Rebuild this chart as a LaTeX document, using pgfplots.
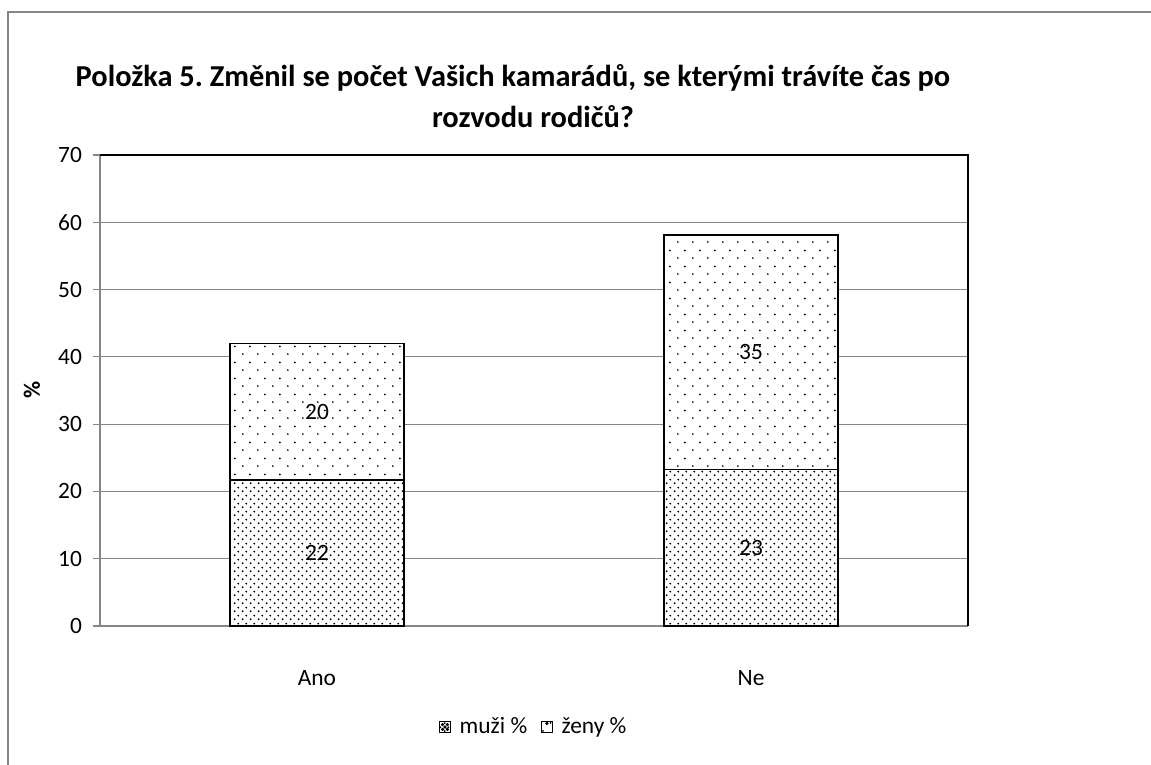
\documentclass[border=0pt]{standalone}
\usepackage{pgfplots}
\pgfplotsset{compat=1.18}
\usepackage{fontspec}
\setmainfont{Carlito}
\frenchspacing
\usetikzlibrary{patterns.meta}
\definecolor{axgray}{HTML}{868686}
\tikzdeclarepattern{
  name=densedots,
  type=uncolored,
  bounding box={(0pt,0pt) and (3.75pt,4pt)},
  tile size={(3.75pt,4pt)},
  code={
    \pgfpathcircle{\pgfqpoint{0.9pt}{1pt}}{0.55pt}
    \pgfpathcircle{\pgfqpoint{2.775pt}{3pt}}{0.55pt}
    \pgfusepath{fill}
  }
}
\tikzdeclarepattern{
  name=sparsedots,
  type=uncolored,
  bounding box={(0pt,0pt) and (7.5pt,7.8pt)},
  tile size={(7.5pt,7.8pt)},
  code={
    \pgfpathcircle{\pgfqpoint{1.5pt}{1.5pt}}{0.5pt}
    \pgfpathcircle{\pgfqpoint{5.25pt}{5.4pt}}{0.5pt}
    \pgfusepath{fill}
  }
}
\pgfplotstableread{
x muzi zeny
0 21.7 20.3
1 23.2 34.9
}\datatable
\newcommand\lblfont{\fontsize{11.7}{14}\selectfont}
\begin{document}
\begin{tikzpicture}
\useasboundingbox (-50pt,-69.5pt) rectangle (525.5pt,313pt);
\draw[axgray, line width=0.8pt] (-46pt,-69.5pt) -- (-46pt,307pt) -- (525.5pt,307pt);
\begin{axis}[
  at={(0pt,0pt)}, anchor=south west,
  scale only axis,
  width=434pt, height=235.5pt,
  ybar stacked,
  bar width=87pt,
  xmin=-0.5, xmax=1.5,
  ymin=0, ymax=70,
  ytick={0,10,...,70},
  xtick={0,1},
  xticklabels={Ano,Ne},
  extra x ticks={-0.5,0.5,1.5},
  extra x tick labels={},
  extra x tick style={major tick length=3.5pt, tick style={axgray, line width=0.6pt}, tick align=outside, grid=none},
  x tick style={draw=none},
  y tick style={axgray, line width=0.6pt},
  major tick length=3.5pt,
  tick align=outside,
  tick pos=left,
  ymajorgrids,
  grid style={axgray, line width=0.5pt},
  axis line style={axgray, line width=0.7pt},
  axis x line*=bottom,
  axis y line*=left,
  /pgf/number format/assume math mode=true,
  tick label style={font=\lblfont},
  yticklabel style={xshift=-2pt},
  xticklabel style={anchor=center, yshift=-22.5pt},
  legend style={at={(0.501,-0.2144)}, anchor=center, draw=none, legend columns=2,
    font=\lblfont,
    /tikz/every odd column/.append style={column sep=2.5pt},
    /tikz/every even column/.append style={column sep=5pt}},
  clip=false,
  after end axis/.code={
    \draw[black, line width=0.6pt] (rel axis cs:0,1) -- (rel axis cs:1,1) -- (rel axis cs:1,0);
    \node[font=\lblfont] at (axis cs:0,10.85) {22};
    \node[font=\lblfont] at (axis cs:0,31.8) {20};
    \node[font=\lblfont] at (axis cs:1,11.6) {23};
    \node[font=\lblfont] at (axis cs:1,40.65) {35};
  },
]
\addplot[draw=black, line width=0.6pt, fill=white, postaction={pattern={densedots}, pattern color=black},
  legend image code/.code={\draw[black, line width=0.45pt, fill=white] (0pt,-2.6pt) rectangle (5.2pt,2.6pt);
    \fill[black] (1.4pt,-1.2pt) circle (0.35pt); \fill[black] (3.8pt,-1.2pt) circle (0.35pt);
    \fill[black] (1.4pt,1.2pt) circle (0.35pt); \fill[black] (3.8pt,1.2pt) circle (0.35pt);
    \fill[black] (2.6pt,0pt) circle (0.35pt);}]
  table[x=x, y=muzi] {\datatable};
\addlegendentry{muži \%}
\addplot[draw=black, line width=0.6pt, fill=white, postaction={pattern={sparsedots}, pattern color=black},
  legend image code/.code={\draw[black, line width=0.45pt, fill=white] (0pt,-2.6pt) rectangle (5.2pt,2.6pt); \fill[black] (2.6pt,1.8pt) circle (0.4pt);}]
  table[x=x, y=zeny] {\datatable};
\addlegendentry{ženy \%}
\end{axis}
\node[font=\bfseries\fontsize{15.2}{17}\selectfont] at (206.5pt,274pt) {Položka 5. Změnil se počet Vašich kamarádů, se kterými trávíte čas po};
\node[font=\bfseries\fontsize{15.2}{17}\selectfont] at (216.5pt,254.5pt) {rozvodu rodičů?};
\node[font=\bfseries\lblfont, rotate=90] at (-34pt,118pt) {\%};
\end{tikzpicture}
\end{document}
